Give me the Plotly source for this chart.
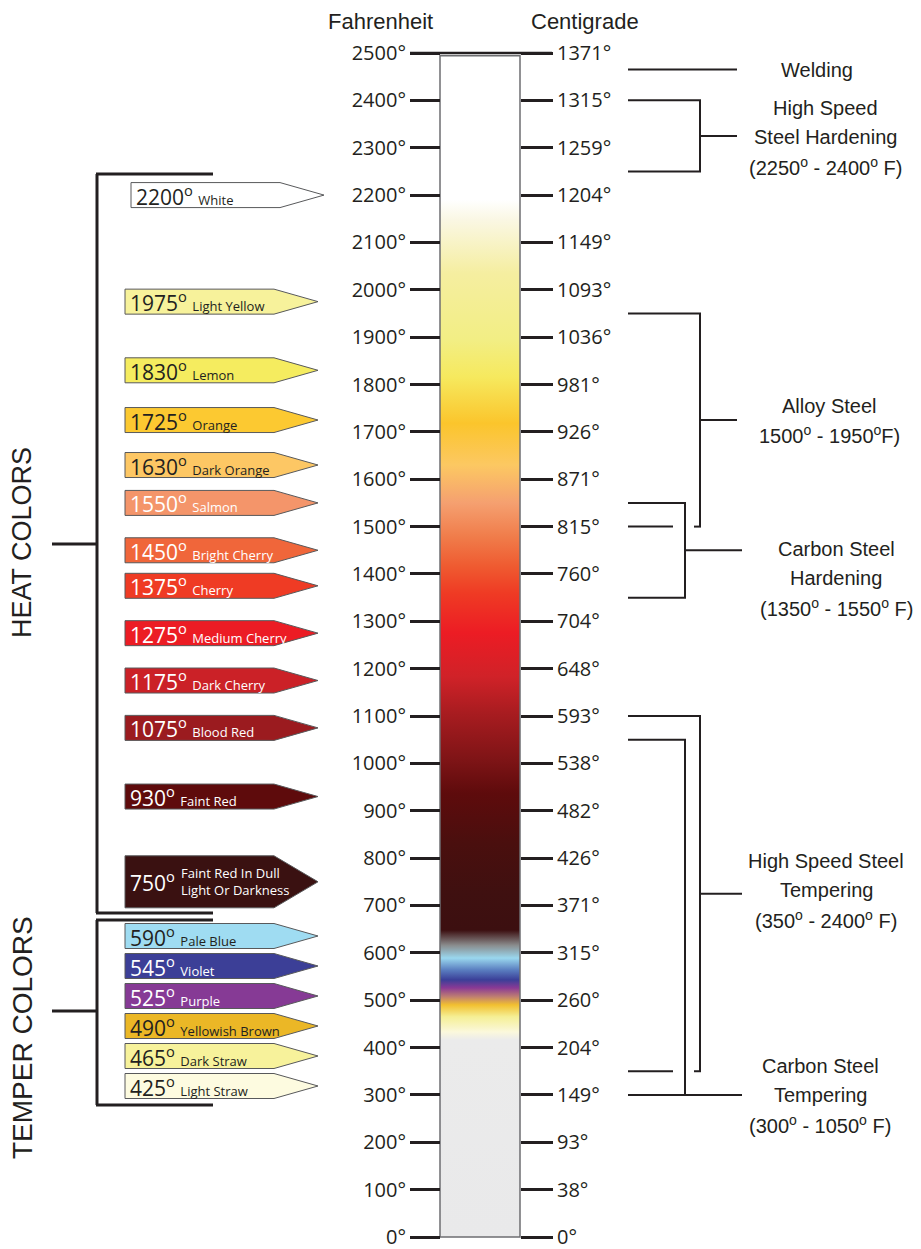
import plotly.graph_objects as go

# ---------------- data ----------------
f_ticks = list(range(0, 2600, 100))
c_labels = [0, 38, 93, 149, 204, 260, 315, 371, 426, 482, 538, 593, 648, 704,
            760, 815, 871, 926, 981, 1036, 1093, 1149, 1204, 1259, 1315, 1371]

heat_temps = [2200, 1975, 1830, 1725, 1630, 1550, 1450, 1375, 1275, 1175, 1075, 930, 750]
heat_names = ["White", "Light Yellow", "Lemon", "Orange", "Dark Orange", "Salmon",
              "Bright Cherry", "Cherry", "Medium Cherry", "Dark Cherry", "Blood Red",
              "Faint Red", "Faint Red In Dull<br>Light Or Darkness"]
heat_fill = ["#ffffff", "#f7f29b", "#f5ec5f", "#fcc931", "#fdc764", "#f4956a",
             "#f0663a", "#ef3b24", "#ec1c24", "#cb2127", "#9b1b1f", "#5e0b0c", "#3a1111"]

temper_temps = [590, 545, 525, 490, 465, 425]
temper_names = ["Pale Blue", "Violet", "Purple", "Yellowish Brown", "Dark Straw", "Light Straw"]
temper_fill = ["#9fdcf2", "#3c3f97", "#863a95", "#ebb726", "#f7f29b", "#fdfbe0"]

# colour of the glowing bar, read bottom to top (deg F)
grad_temps = [0, 416, 433, 465, 490, 507, 526, 543, 564, 589, 616, 648, 726, 832, 937,
              1007, 1106, 1183, 1275, 1360, 1415, 1478, 1550, 1630, 1718, 1816, 1894,
              2035, 2147, 2190, 2494]
grad_colors = ["#e9e9ea", "#ebebeb", "#fbf8dc", "#f5ef95", "#f2c030", "#c08070", "#8a3a95",
               "#3b3f98", "#5a7ec0", "#9ad7ee", "#8a8c8d", "#3c0f10", "#3f1010", "#4a0f0e",
               "#5e0b0c", "#7e1416", "#a81c20", "#d02228", "#ec1c24", "#ef3b24", "#ef5a30",
               "#f07c4a", "#f5a070", "#fcc862", "#fbc52c", "#f6e95e", "#f2ee84", "#f5eea0",
               "#faf7e3", "#ffffff", "#ffffff"]

proc_text = ["Welding",
             "High Speed<br>Steel Hardening<br>(2250<sup>o</sup> - 2400<sup>o</sup> F)",
             "Alloy Steel<br>1500<sup>o</sup> - 1950<sup>o</sup>F)",
             "Carbon Steel<br>Hardening<br>(1350<sup>o</sup> - 1550<sup>o</sup> F)",
             "High Speed Steel<br>Tempering<br>(350<sup>o</sup> - 2400<sup>o</sup> F)",
             "Carbon Steel<br>Tempering<br>(300<sup>o</sup> - 1050<sup>o</sup> F)"]
proc_lo = [2465, 2250, 1500, 1350, 350, 300]
proc_hi = [2465, 2400, 1950, 1550, 1100, 1050]

# ---------------- layout helpers ----------------
W, H = 921, 1249
OFF = 8                     # page body margin
PX = 2500 / 1184.0          # deg F per screen pixel
Y0 = 1237                   # pixel row of 0 F


def fy(py):
    return (Y0 - py) * PX


INK = "#231f20"
MYRIAD = "Open Sans"
ARIAL = "Liberation Sans, Arial"
BAR_L, BAR_R = 440, 520

fig = go.Figure()
shapes = []
ann = []


def seg(x0, y0, x1, y1, w=2, color=INK):
    shapes.append(dict(type="line", xref="x", yref="y", x0=x0, y0=y0, x1=x1, y1=y1,
                       line=dict(color=color, width=w)))


# gradient bar
fig.add_trace(go.Scatter(
    x=[BAR_L, BAR_R, BAR_R, BAR_L, BAR_L],
    y=[0, 0, grad_temps[-1], grad_temps[-1], 0],
    mode="lines", fill="toself", line=dict(color="#6d6e71", width=1.5),
    fillgradient=dict(type="vertical", start=0, stop=grad_temps[-1],
                      colorscale=[[t / grad_temps[-1], c] for t, c in zip(grad_temps, grad_colors)]),
    hoverinfo="skip"))
seg(410, 2500, 552, 2500, 2.5)


def arrow(yc, half, fill, x0=125, x1=274, xt=318):
    fig.add_trace(go.Scatter(
        x=[x0, x1, xt, x1, x0, x0],
        y=[yc - half, yc - half, yc, yc + half, yc + half, yc - half],
        mode="lines", fill="toself", fillcolor=fill,
        line=dict(color="#58595b", width=1), hoverinfo="skip"))


def is_dark(c):
    r, g, b = int(c[1:3], 16), int(c[3:5], 16), int(c[5:7], 16)
    return 0.3 * r + 0.55 * g + 0.15 * b < 175


def label(t, n):
    return f"{t}<sup>o</sup> <span style='font-size:13px'>{n}</span>"


# heat colour arrows
for t, n, c in zip(heat_temps, heat_names, heat_fill):
    txtc = "#ffffff" if is_dark(c) or c == "#f4956a" else INK
    shift = 6 if t == 2200 else 0
    if "<br>" in n:
        arrow(t, 26 * PX, c)
        ann.append(dict(x=128, y=t, text=f"{t}<sup>o</sup>", xanchor="left",
                        font=dict(family=MYRIAD, size=21, color=txtc)))
        ann.append(dict(x=179, y=t, text=n, xanchor="left", align="left",
                        font=dict(family=MYRIAD, size=13, color=txtc)))
    else:
        arrow(t, 12.5 * PX, c, 125 + shift, 274 + shift, 318 + shift)
        ann.append(dict(x=128 + shift, y=t, text=label(t, n), xanchor="left",
                        font=dict(family=MYRIAD, size=21, color=txtc)))

# temper colour arrows, stacked under the heat colours
for i, (t, n, c) in enumerate(zip(temper_temps, temper_names, temper_fill)):
    yc = fy(936 + i * 30)
    txtc = "#ffffff" if is_dark(c) else INK
    arrow(yc, 12.5 * PX, c)
    ann.append(dict(x=128, y=yc, text=label(t, n), xanchor="left",
                    font=dict(family=MYRIAD, size=21, color=txtc)))

# left brackets
for top, bot, mid in [(fy(174), fy(913), fy(544)), (fy(920), fy(1105), fy(1011))]:
    seg(97, top, 97, bot, 3)
    seg(96, top, 213, top, 3)
    seg(96, bot, 213, bot, 3)
    seg(52, mid, 97, mid, 3)
ann.append(dict(x=22, y=fy(543), text="HEAT COLORS", textangle=-90,
                font=dict(family=ARIAL, size=27, color=INK)))
ann.append(dict(x=22, y=fy(1038), text="TEMPER COLORS", textangle=-90,
                font=dict(family=ARIAL, size=28, color=INK)))

# right brackets
spine = [700, 700, 700, 685, 700, 685]
stub_end = [737, 737, 737, 742, 742, 742]
text_x = [817, 825, 829, 836, 826, 820]
text_py = [70, 137, 420, 578, 890, 1095]
for k in range(len(proc_text)):
    lo, hi, sx = proc_lo[k], proc_hi[k], spine[k]
    if lo == hi:
        seg(628, lo, stub_end[k], lo)
    else:
        for yv in (hi, lo):
            gap = None
            if sx == 700:
                for j in range(len(proc_text)):
                    if spine[j] == 685 and proc_lo[j] < yv < proc_hi[j]:
                        gap = (673, 694)
            if gap:
                seg(628, yv, gap[0], yv)
                seg(gap[1], yv, sx + 1, yv)
            else:
                seg(628, yv, sx + 1, yv)
        seg(sx, lo, sx, hi)
        ys = lo if k == len(proc_text) - 1 else (lo + hi) / 2
        seg(sx, ys, stub_end[k], ys)
    lines = proc_text[k].split("<br>")
    for i, line in enumerate(lines):
        py = text_py[k] + (i - (len(lines) - 1) / 2) * 29
        ann.append(dict(x=text_x[k], y=fy(py), text=line,
                        font=dict(family=ARIAL, size=20, color=INK)))

# headers
ann.append(dict(x=380, y=fy(21), text="Fahrenheit", font=dict(family=ARIAL, size=22, color=INK)))
ann.append(dict(x=585, y=fy(21), text="Centigrade", font=dict(family=ARIAL, size=22, color=INK)))

for a in ann:
    a.setdefault("xref", "x")
    a.setdefault("yref", "y")
    a.setdefault("showarrow", False)
    a.setdefault("yanchor", "middle")

fig.add_trace(go.Scatter(x=[None], y=[None], yaxis="y2", showlegend=False, hoverinfo="skip"))

pw, ph = W - OFF, H - OFF
yr = [fy(H), fy(OFF)]
axis_common = dict(range=yr, anchor="free", tickmode="array", tickvals=f_ticks,
                   ticks="outside", tickwidth=2.5, tickcolor=INK,
                   tickfont=dict(family=MYRIAD, size=20, color=INK),
                   ticklabeloverflow="allow",
                   showgrid=False, zeroline=False, showline=False, automargin=False)
fig.update_layout(
    width=pw, height=ph,
    margin=dict(l=0, r=0, t=0, b=0),
    paper_bgcolor="white", plot_bgcolor="white",
    showlegend=False,
    shapes=shapes, annotations=ann,
    xaxis=dict(range=[OFF, W], visible=False, fixedrange=True),
    yaxis=dict(axis_common, position=(BAR_L - OFF) / pw, side="left", ticklen=30,
               ticktext=[f"{v}°" for v in f_ticks]),
    yaxis2=dict(axis_common, overlaying="y", position=(BAR_R - OFF) / pw, side="right",
                ticklen=32, ticktext=[f"{v}°" for v in c_labels]),
)

fig.write_html("out.html")
